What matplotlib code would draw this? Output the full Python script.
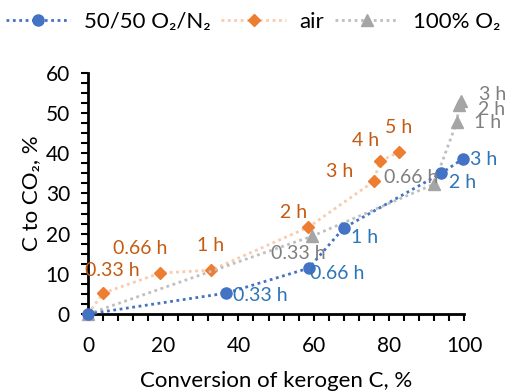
import matplotlib
matplotlib.use("Agg")
import matplotlib.pyplot as plt
from matplotlib.ticker import MultipleLocator

plt.rcParams['font.family'] = ['Lato', 'DejaVu Sans']

# data
mix_x = [0, 36.8, 58.7, 68.0, 93.9, 99.7]
mix_y = [0, 5.2, 11.4, 21.4, 35.0, 38.6]
mix_lbl = ['', '0.33 h', '0.66 h', '1 h', '2 h', '3 h']

air_x = [0, 4.0, 19.2, 32.7, 58.6, 76.0, 77.6, 82.7]
air_y = [0, 5.2, 10.2, 10.9, 21.6, 33.0, 38.0, 40.3]
air_lbl = ['', '0.33 h', '0.66 h', '1 h', '2 h', '3 h', '4 h', '5 h']

o2_x = [0, 59.7, 92.0, 98.1, 98.7, 99.2]
o2_y = [0, 19.4, 32.3, 47.8, 52.0, 53.0]
o2_lbl = ['', '0.33 h', '0.66 h', '1 h', '2 h', '3 h']

# label offsets from the point, in pixels (dx right, dy up)
mix_off = [None, (34, -2), (28, -5), (21, -9), (21, -9), (21, -1)]
air_off = [None, (9, 23), (-20, 25), (0, 25), (-15, 15), (-34, 10), (-14, 21), (0, 25)]
o2_off = [None, (-14, -17), (-23, 7), (31, -1), (32, -4), (32, 7)]

fig = plt.figure(figsize=(5.06, 3.92), dpi=100)
ax = fig.add_axes([0.174, 0.199, 0.743, 0.615])

blue, orange, gray = '#4472C4', '#ED7D31', '#A5A5A5'
dots = (0, (1, 1.3))

ax.plot(mix_x, mix_y, ls=dots, lw=2, color=blue, marker='o', ms=8,
        label='50/50 O\u2082/N\u2082', zorder=3, clip_on=False)
ax.plot(air_x, air_y, ls=dots, lw=2, color='#F8CBAD', marker='D', ms=6,
        mfc=orange, mec=orange, label='air', zorder=2, clip_on=False)
ax.plot(o2_x, o2_y, ls=dots, lw=2, color='#BFBFBF', marker='^', ms=8,
        mfc=gray, mec=gray, label='100% O\u2082', zorder=2, clip_on=False)

fs = 14
for xs, ys, lbls, offs, col in [(mix_x, mix_y, mix_lbl, mix_off, '#2E75B6'),
                                (air_x, air_y, air_lbl, air_off, '#C55A11'),
                                (o2_x, o2_y, o2_lbl, o2_off, '#7F7F7F')]:
    for x, y, t, o in zip(xs, ys, lbls, offs):
        if t:
            ax.annotate(t, (x, y), xytext=o, textcoords='offset pixels',
                        ha='center', va='center', color=col, fontsize=fs)

ax.set_xlim(0, 100)
ax.set_ylim(0, 60)
ax.xaxis.set_major_locator(MultipleLocator(20))
ax.xaxis.set_minor_locator(MultipleLocator(4))
ax.yaxis.set_major_locator(MultipleLocator(10))
ax.yaxis.set_minor_locator(MultipleLocator(2.5))
for s in ['top', 'right']:
    ax.spines[s].set_visible(False)
for s in ['left', 'bottom']:
    ax.spines[s].set_linewidth(2)
ax.tick_params(which='both', direction='out', width=1.5, length=5, labelsize=15)
ax.tick_params(axis='x', which='major', pad=11)
ax.tick_params(axis='y', which='major', pad=8)
ax.set_xlabel('Conversion of kerogen C, %', fontsize=16, labelpad=11)
ax.set_ylabel('C to CO\u2082, %', fontsize=16, labelpad=3)

fig.legend(loc='center', bbox_to_anchor=(0.5, 0.945), ncol=3, frameon=False,
           fontsize=16, handlelength=2.9, columnspacing=0.5, handletextpad=0.6)

fig.savefig('out.png', dpi=100)
